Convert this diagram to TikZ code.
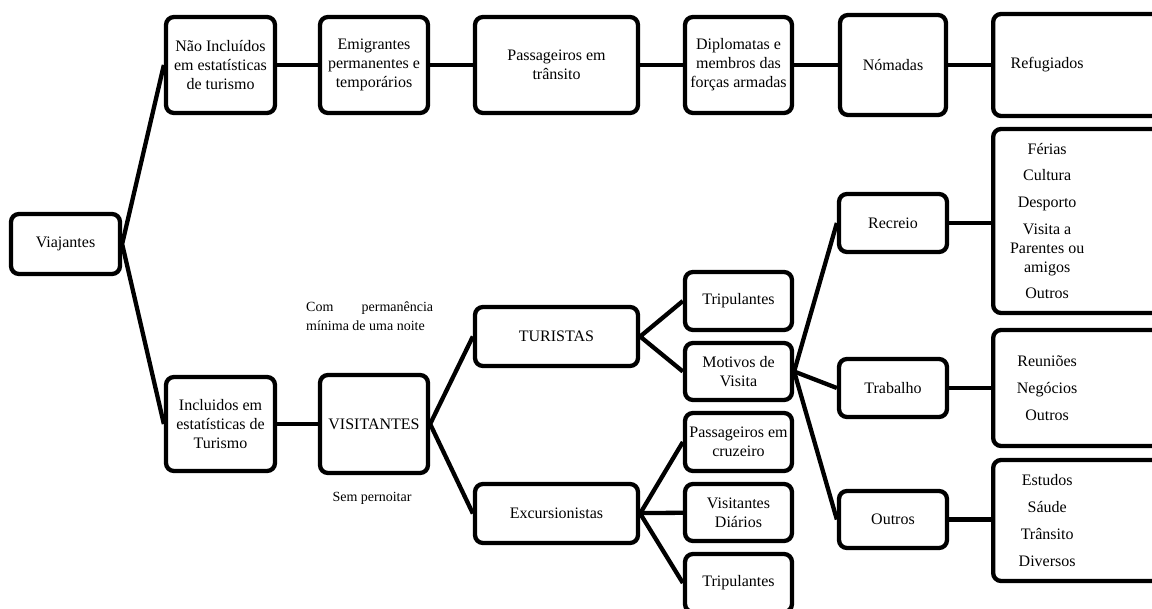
\documentclass[tikz,border=0pt]{standalone}
\usepackage{fontspec}
\setmainfont{Liberation Serif}
\usepackage{tikz}

\begin{document}
\begin{tikzpicture}[x=1pt,y=-1pt,
        caixa/.style={draw, line width=4.3pt, rounded corners=8pt, align=center,
            inner sep=1pt, font=\fontsize{16}{19}\selectfont},
        folha/.style={caixa, anchor=west, inner xsep=0pt},
        liga/.style={line width=4.3pt}]
        \useasboundingbox (0,0) rectangle (1152,609);
        \clip (0,0) rectangle (1152,609);
        % linha de cima
        \node[caixa, minimum width=109, minimum height=60] (via) at (65.5,244) {Viajantes};
        \node[caixa, minimum width=109, minimum height=96] (naoinc) at (220.5,65) {Não Incluídos\\em estatísticas\\de turismo};
        \node[caixa, minimum width=108, minimum height=96] (emig) at (374,65) {Emigrantes\\permanentes e\\temporários};
        \node[caixa, minimum width=163, minimum height=96] (passtr) at (556.5,65) {Passageiros em\\trânsito};
        \node[caixa, minimum width=107, minimum height=96] (diplo) at (738.5,65) {Diplomatas e\\membros das\\forças armadas};
        \node[caixa, minimum width=106, minimum height=100] (noma) at (893,65) {Nómadas};
        \node[folha, minimum height=102] (refug) at (991,65) {\parbox{108pt}{\centering Refugiados}\hspace*{90pt}};
        % visitantes
        \node[caixa, minimum width=109, minimum height=94] (incl) at (220.5,424) {Incluidos em\\estatísticas de\\Turismo};
        \node[caixa, minimum width=108, minimum height=98] (visit) at (374,424) {VISITANTES};
        \node[caixa, minimum width=163, minimum height=59] (tur) at (556.5,336.5) {TURISTAS};
        \node[caixa, minimum width=163, minimum height=59] (exc) at (556.5,513.5) {Excursionistas};
        \node[caixa, minimum width=107, minimum height=58] (trip1) at (738.5,301) {Tripulantes};
        \node[caixa, minimum width=107, minimum height=57] (motiv) at (738.5,371.5) {Motivos de\\Visita};
        \node[caixa, minimum width=107, minimum height=58] (cruz) at (738.5,442) {Passageiros em\\cruzeiro};
        \node[caixa, minimum width=107, minimum height=57] (diar) at (738.5,512.5) {Visitantes\\Diários};
        \node[caixa, minimum width=107, minimum height=58] (trip2) at (738.5,583) {Tripulantes};
        \node[caixa, minimum width=108, minimum height=58] (recr) at (893,223) {Recreio};
        \node[caixa, minimum width=108, minimum height=58] (trab) at (893,388) {Trabalho};
        \node[caixa, minimum width=108, minimum height=57] (outr) at (893,519.5) {Outros};
        \node[folha, minimum height=184] (ferias) at (991,221) {\parbox{108pt}{\centering Férias\\[7.7pt]Cultura\\[7.7pt]Desporto\\[7.7pt]Visita a\\Parentes ou\\amigos\\[7.7pt]Outros}\hspace*{90pt}};
        \node[folha, minimum height=116] (reun) at (991,388) {\parbox{108pt}{\centering Reuniões\\[7.7pt]Negócios\\[7.7pt]Outros}\hspace*{90pt}};
        \node[folha, minimum height=121] (estud) at (991,520.5) {\parbox{108pt}{\centering Estudos\\[7.7pt]Sáude\\[7.7pt]Trânsito\\[7.7pt]Diversos}\hspace*{90pt}};
        % notas
        \node[anchor=north west, inner sep=0pt, text width=127pt, align=justify,
            font=\fontsize{14}{19}\selectfont] (com) at (306,302) {Com permanência mínima de uma noite};
        \node[inner sep=0pt, font=\fontsize{14}{19}\selectfont] (sem) at (372,498) {Sem pernoitar};
        % ligacoes
        \draw[liga] (naoinc.west) -- (via.east) -- (incl.west);
        \draw[liga] (naoinc) -- (emig) -- (passtr) -- (diplo) -- (noma) -- (refug);
        \draw[liga] (incl) -- (visit);
        \draw[liga] (tur.west) -- (visit.east) -- (exc.west);
        \draw[liga] (trip1.west) -- (tur.east) -- (motiv.west);
        \draw[liga] (cruz.west) -- (exc.east) -- (trip2.west);
        \draw[liga] (exc) -- (diar);
        \draw[liga] (motiv.east) -- (recr.west);
        \draw[liga] (motiv.east) -- (trab.west);
        \draw[liga] (motiv.east) -- (outr.west);
        \draw[liga] (recr) -- (recr -| ferias.west);
        \draw[liga] (trab) -- (trab -| reun.west);
        \draw[liga] (outr) -- (outr -| estud.west);
\end{tikzpicture}
\end{document}
